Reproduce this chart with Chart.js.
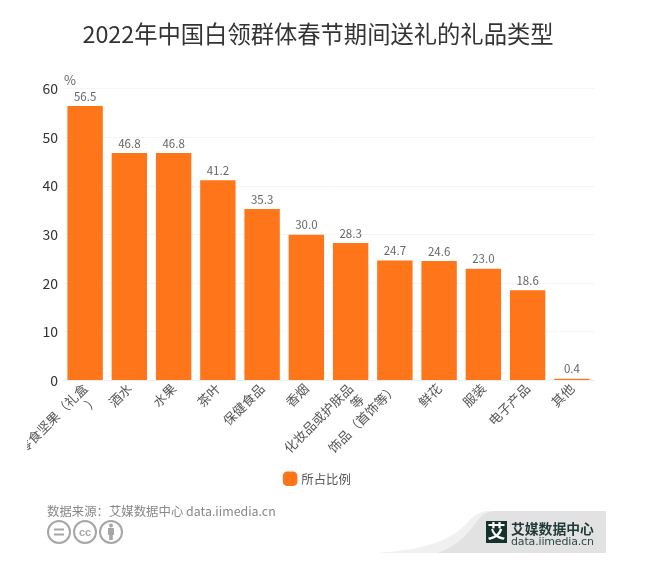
<!DOCTYPE html>
<html>
<head>
<meta charset="utf-8">
<script src="https://cdn.jsdelivr.net/npm/chart.js@4"></script>
<style>
    html, body { margin: 0; padding: 0; background: #fff; width: 660px; height: 563px; overflow: hidden; }
    body { position: relative; font-family: "Noto Sans CJK SC", "Noto Sans", sans-serif; }
    #chartBox { position: absolute; left: 0; top: 0; width: 636px; height: 563px; clip-path: inset(0 0 0 27px); }
    .source { position: absolute; left: 47px; top: 502px; font-size: 12.4px; line-height: 18px; color: #888; white-space: nowrap; }
    .cc { position: absolute; left: 46px; top: 519px; }
    .logo { position: absolute; left: 375px; top: 510px; }
</style>
</head>
<body>
<div id="chartBox"><canvas id="giftChart" width="636" height="563"></canvas></div>
<div class="source">数据来源：艾媒数据中心 data.iimedia.cn</div>

<svg class="cc" width="78" height="26" viewBox="0 0 78 26">
    <g fill="none" stroke="#a6a6a6" stroke-width="2">
        <circle cx="13" cy="13" r="11"/>
        <circle cx="39" cy="13" r="11"/>
        <circle cx="65" cy="13" r="11"/>
        <path d="M8 10.5h10M8 15.5h10"/>
    </g>
    <text x="39" y="17" text-anchor="middle" font-size="11" font-weight="bold" fill="#a6a6a6" font-family="Liberation Sans">cc</text>
    <g fill="#a6a6a6">
        <circle cx="65" cy="6.5" r="2"/>
        <rect x="62" y="9" width="6" height="7"/>
        <rect x="63.2" y="15" width="3.6" height="6"/>
    </g>
</svg>

<svg class="logo" width="232" height="44" viewBox="0 0 232 44">
    <path d="M2 43 C50 40 75 30 90 15 C97 7 103 2 112 1 L231 1 L231 43 Z" fill="#f0f0f0"/>
    <path d="M62 43 C85 36 95 20 103 10 C107 5 110 2 120 1 L231 1 L231 43 Z" fill="#e2e2e2"/>
    <rect x="111" y="11" width="21" height="22" fill="#14312c"/>
    <text x="121.5" y="28" text-anchor="middle" font-size="18" font-weight="bold" fill="#fff">艾</text>
    <text x="136" y="24" font-size="13.8" font-weight="bold" fill="#1f3a36">艾媒数据中心</text>
    <text x="136" y="35" font-size="11" fill="#2f4a46" font-family="DejaVu Sans" textLength="83">data.iimedia.cn</text>
</svg>

<script>
const categories = [
    ["休闲零食坚果（礼盒", "）"],
    "酒水",
    "水果",
    "茶叶",
    "保健食品",
    "香烟",
    ["化妆品或护肤品", "等"],
    "饰品（首饰等）",
    "鲜花",
    "服装",
    "电子产品",
    "其他"
];
const shareValues = [56.5, 46.8, 46.8, 41.2, 35.3, 30.0, 28.3, 24.7, 24.6, 23.0, 18.6, 0.4];
const yTicks = [0, 10, 20, 30, 40, 50, 60];

const fontName = '"Noto Sans CJK SC", "Noto Sans", sans-serif';

// value labels above the bars, and the % unit over the y axis
const barLabels = {
    id: 'barLabels',
    afterDatasetsDraw(chart) {
        const c = chart.ctx;
        const meta = chart.getDatasetMeta(0);
        c.save();
        c.font = '11.5px ' + fontName;
        c.fillStyle = '#666';
        c.textAlign = 'center';
        c.textBaseline = 'bottom';
        meta.data.forEach((bar, i) => {
            c.fillText(shareValues[i].toFixed(1), bar.x, bar.y - 4);
        });
        c.font = '13px ' + fontName;
        c.textAlign = 'left';
        c.fillText('%', chart.scales.y.right + 1, chart.scales.y.top - 2);
        c.restore();
    }
};

new Chart(document.getElementById('giftChart').getContext('2d'), {
    type: 'bar',
    data: {
        labels: categories,
        datasets: [{
            label: '所占比例',
            data: shareValues,
            backgroundColor: '#fe751a',
            barPercentage: 0.8,
            categoryPercentage: 1
        }]
    },
    plugins: [barLabels],
    options: {
        responsive: false,
        animation: false,
        layout: { padding: { left: 0, right: 0, top: 0, bottom: 68 } },
        plugins: {
            title: {
                display: true,
                text: '2022年中国白领群体春节期间送礼的礼品类型',
                color: '#333',
                font: { family: fontName, size: 23.3, weight: 'normal' },
                padding: { top: 20, bottom: 41 }
            },
            legend: {
                position: 'bottom',
                labels: {
                    usePointStyle: true,
                    pointStyle: 'rectRounded',
                    boxWidth: 10,
                    boxHeight: 12,
                    color: '#555',
                    font: { family: fontName, size: 12.4 }
                }
            },
            tooltip: { enabled: false }
        },
        scales: {
            x: {
                afterFit(scale) { scale.height = 82; },
                grid: { display: false, drawTicks: false },
                border: { color: '#eee' },
                ticks: {
                    autoSkip: false,
                    maxRotation: 45,
                    minRotation: 45,
                    padding: 0,
                    color: '#555',
                    font: { family: fontName, size: 13 }
                }
            },
            y: {
                min: 0,
                max: 60,
                afterFit(scale) { scale.width = 57; },
                afterBuildTicks(scale) { scale.ticks = yTicks.map(v => ({ value: v })); },
                grid: { color: '#f4f4f4', drawTicks: false },
                border: { display: false },
                ticks: {
                    padding: 5,
                    color: '#333',
                    font: { family: fontName, size: 14 }
                }
            },
            // empty axis, only holds the plot's right edge at 594 so title and legend centre at 318
            spacer: {
                position: 'right',
                afterFit(scale) { scale.width = 42; },
                grid: { display: false, drawTicks: false },
                border: { display: false },
                ticks: { display: false }
            }
        }
    }
});
</script>
</body>
</html>
